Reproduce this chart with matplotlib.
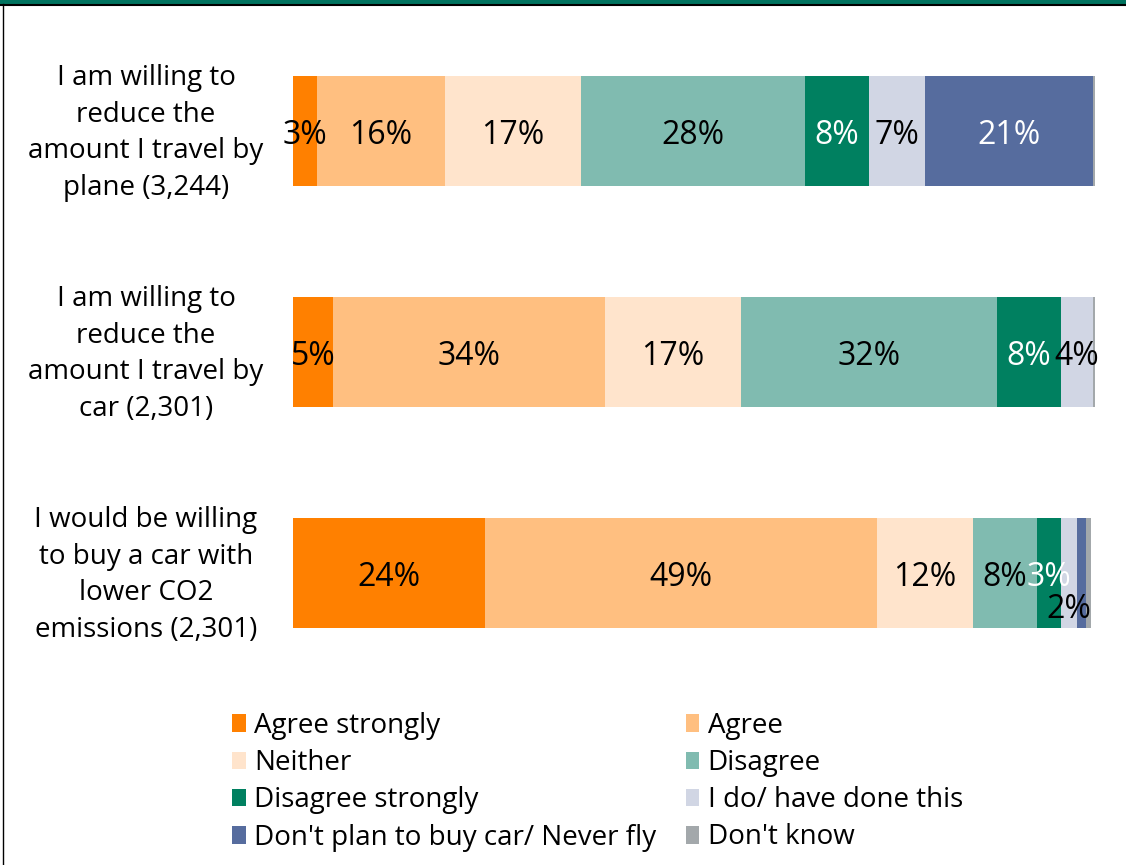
"""Stacked 100% bars: willingness to change travel behaviour."""

import matplotlib.pyplot as plt
from matplotlib.lines import Line2D
from matplotlib.patches import Patch, Rectangle

plt.rcParams["font.family"] = ["Open Sans", "DejaVu Sans"]

W, H = 1126, 865

questions = [
    "I am willing to\nreduce the\namount I travel by\nplane (3,244)",
    "I am willing to\nreduce the\namount I travel by\ncar (2,301)",
    "I would be willing\nto buy a car with\nlower CO2\nemissions (2,301)",
]
responses = [
    "Agree strongly",
    "Agree",
    "Neither",
    "Disagree",
    "Disagree strongly",
    "I do/ have done this",
    "Don't plan to buy car/ Never fly",
    "Don't know",
]
# percentage of respondents per answer, one list per question
plane = [3, 16, 17, 28, 8, 7, 21, 0.3]
car = [5, 34, 17, 32, 8, 4, 0, 0.3]
co2 = [24, 49, 12, 8, 3, 2, 1.2, 0.6]
# which segments carry a printed label
labelled = [
    [1, 1, 1, 1, 1, 1, 1, 0],
    [1, 1, 1, 1, 1, 1, 0, 0],
    [1, 1, 1, 1, 1, 1, 0, 0],
]

colors = ["#FF8000", "#FFBF80", "#FFE4CC", "#80BBB0",
          "#008060", "#D1D6E4", "#566C9E", "#A3A8AB"]
text_colors = ["black", "black", "black", "black",
               "white", "black", "white", "black"]

data = [plane, car, co2]

fig = plt.figure(figsize=(W / 100, H / 100), dpi=100)

# bar area in pixels: x 293..1095, y 76..628
ax = fig.add_axes([293 / W, (H - 628) / H, (1095 - 293) / W, (628 - 76) / H])
ax.set_xlim(0, 100.3)
ax.set_ylim(2.25, -0.25)
ax.axis("off")

for row, vals in enumerate(data):
    left = 0
    for k, v in enumerate(vals):
        if v > 0:
            ax.barh(row, v, left=left, height=0.5, color=colors[k], linewidth=0)
        if labelled[row][k]:
            dy = 0.165 if (row == 2 and k == 5) else 0.02
            ax.text(left + v / 2, row + dy, f"{v:g}%", ha="center", va="center",
                    fontsize=23, color=text_colors[k])
        left += v

# question labels on the left
for row, q in enumerate(questions):
    y_px = 133 + row * 221
    fig.text(146 / W, 1 - y_px / H, q, ha="center", va="center",
             fontsize=20, linespacing=1.4)

# legend, ordered row by row across two columns
order = [0, 2, 4, 6, 1, 3, 5, 7]
handles = [Patch(facecolor=colors[i], edgecolor="none") for i in order]
labels = [responses[i] for i in order]
fig.legend(handles, labels, ncol=2, loc="upper left",
           bbox_to_anchor=(232 / W, 1 - 712 / H), frameon=False,
           fontsize=20, handlelength=0.5, handleheight=0.6,
           handletextpad=0.3, columnspacing=1.05, labelspacing=0.33,
           borderpad=0, borderaxespad=0)

# frame: green band on top, thin black rule, left edge line
fig.add_artist(Rectangle((0, 1 - 4 / H), 1, 4 / H, transform=fig.transFigure,
                         facecolor="#00735F", edgecolor="none"))
fig.add_artist(Line2D([0, 1], [1 - 4.5 / H, 1 - 4.5 / H], transform=fig.transFigure,
                      color="black", linewidth=1.5))
fig.add_artist(Line2D([3 / W, 3 / W], [0, 1 - 4 / H], transform=fig.transFigure,
                      color="black", linewidth=1))

fig.savefig("out.png", dpi=100)
